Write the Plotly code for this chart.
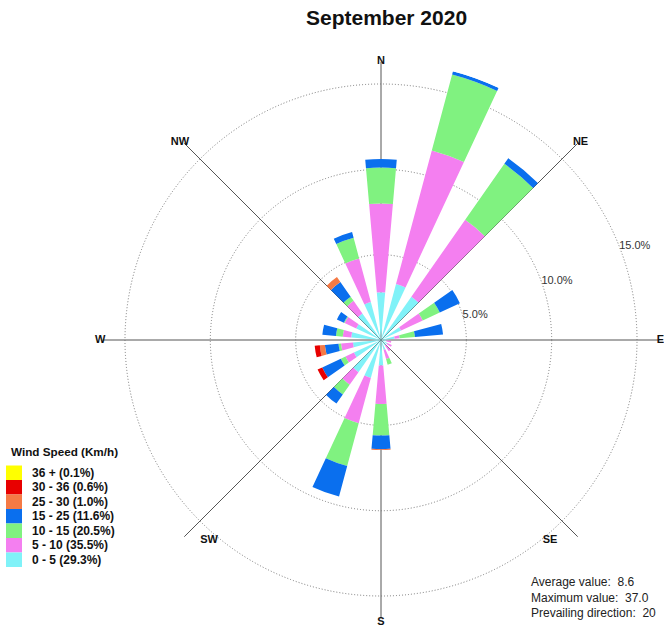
import plotly.graph_objects as go

# ---- data -------------------------------------------------------------
directions = [0, 20, 40, 60, 80, 100, 120, 140, 160,
              180, 200, 220, 240, 260, 280, 300, 320, 340]

speed_labels = ["0 - 5 (29.3%)", "5 - 10 (35.5%)", "10 - 15 (20.5%)",
                "15 - 25 (11.6%)", "25 - 30 (1.0%)", "30 - 36 (0.6%)",
                "36 + (0.1%)"]

speed_colors = ["#80F2F8", "#F47FF0", "#80F280", "#0A6FEE",
                "#F57A45", "#E80000", "#FFFF00"]

# frequency (%) per direction for each speed class
freq_0_5 = [2.8, 3.4, 3.1, 1.3, 0.8, 0.3, 0.4, 0.4, 0.6,
            1.5, 2.3, 2.3, 1.75, 1.65, 1.75, 1.6, 1.9, 2.3]
freq_5_10 = [5.2, 8.1, 5.5, 1.4, 0.3, 0.3, 0.3, 0.4, 0.55,
             2.25, 2.75, 0.9, 0.55, 0.7, 0.5, 0.75, 0.9, 2.65]
freq_10_15 = [2.1, 4.6, 4.0, 1.1, 0.9, 0.0, 0.0, 0.0, 0.35,
              1.85, 2.6, 0.7, 0.3, 0.15, 0.4, 0.05, 0.3, 1.25]
freq_15_25 = [0.5, 0.2, 0.4, 1.3, 1.65, 0.0, 0.0, 0.0, 0.0,
              0.8, 1.85, 0.65, 1.2, 0.8, 0.8, 0.45, 1.05, 0.35]
freq_25_30 = [0.0, 0.0, 0.0, 0.0, 0.0, 0.0, 0.0, 0.0, 0.0,
              0.05, 0.0, 0.0, 0.0, 0.3, 0.0, 0.0, 0.35, 0.0]
freq_30_36 = [0.0, 0.0, 0.0, 0.0, 0.0, 0.0, 0.0, 0.0, 0.0,
              0.0, 0.0, 0.0, 0.3, 0.3, 0.0, 0.0, 0.0, 0.0]
freq_36_up = [0.0] * 18

speed_freqs = [freq_0_5, freq_5_10, freq_10_15, freq_15_25,
               freq_25_30, freq_30_36, freq_36_up]

compass_angles = [0, 45, 90, 135, 180, 225, 270, 315]
compass_labels = ["N", "NE", "E", "SE", "S", "SW", "W", "NW"]

ring_values = [5, 10, 15]
ring_labels = ["5.0%", "10.0%", "15.0%"]

stats_lines = ["Average value:  8.6", "Maximum value:  37.0",
               "Prevailing direction:  20"]

title_text = "September 2020"
legend_title = "Wind Speed (Km/h)"

# ---- figure -----------------------------------------------------------
W, H = 664, 631
FONT = "Liberation Sans, Arial, sans-serif"


def px_x(x):
    return x / W


def px_y(y):
    return 1 - y / H


fig = go.Figure()
for label, color, freq in zip(speed_labels, speed_colors, speed_freqs):
    fig.add_trace(go.Barpolar(
        r=freq, theta=directions, width=[10] * len(directions),
        name=label, marker=dict(color=color, line=dict(width=0)),
        showlegend=False,
    ))

r_max = 16.3
cx, cy, rad = 381, 340, 278.2  # plot centre and outer radius in pixels

# compass point labels around the ends of the direction lines
label_r = [16.0, 15.9, 16.15, 15.34, 16.2, 15.45, 16.15, 15.9]
label_theta = [0, 45, 90, 139.8, 180, 220.7, 270, 315]
label_pos = ["top center", "top right", "middle right", "middle center",
             "bottom center", "middle center", "middle left", "top left"]
fig.add_trace(go.Scatterpolar(
    r=label_r, theta=label_theta, mode="text",
    text=["<b>%s</b>" % t for t in compass_labels],
    textposition=label_pos,
    textfont=dict(size=11, color="#111", family=FONT),
    cliponaxis=False, showlegend=False, hoverinfo="skip",
))

# ring value labels
fig.add_trace(go.Scatterpolar(
    r=ring_values, theta=[73, 70, 68.5], mode="text",
    text=ring_labels, textposition="middle right",
    textfont=dict(size=11, color="#333", family=FONT),
    cliponaxis=False, showlegend=False, hoverinfo="skip",
))

fig.update_layout(
    width=W, height=H,
    margin=dict(l=0, r=0, t=0, b=0),
    paper_bgcolor="white", plot_bgcolor="white",
    font=dict(family=FONT, color="#222"),
    polar=dict(
        bgcolor="white",
        barmode="stack",
        domain=dict(x=[px_x(cx - rad), px_x(cx + rad)],
                    y=[px_y(cy + rad), px_y(cy - rad)]),
        angularaxis=dict(
            direction="clockwise", rotation=90,
            tickmode="array", tickvals=compass_angles,
            showticklabels=False,
            showline=False, ticks="",
            showgrid=True, gridcolor="#555", gridwidth=1,
        ),
        radialaxis=dict(
            range=[0, r_max],
            tickmode="array", tickvals=ring_values,
            showticklabels=False,
            showline=False, ticks="",
            showgrid=True, gridcolor="#777", gridwidth=1,
            griddash="1px,2px",
        ),
    ),
)

# title
fig.add_annotation(
    x=px_x(386), y=px_y(17), xref="paper", yref="paper",
    text="<b>%s</b>" % title_text, showarrow=False,
    font=dict(size=21, color="#111", family=FONT),
    xanchor="center", yanchor="middle",
)

# speed legend
fig.add_annotation(
    x=px_x(9), y=px_y(451), xref="paper", yref="paper",
    text="<b>%s</b>" % legend_title, showarrow=False,
    font=dict(size=11.7, color="#111", family=FONT),
    xanchor="left", yanchor="middle",
)
box_top, box_h = 465.5, 14.5
for i, (label, color) in enumerate(zip(speed_labels[::-1], speed_colors[::-1])):
    y0 = box_top + i * box_h
    fig.add_shape(
        type="rect", xref="paper", yref="paper",
        x0=px_x(6), x1=px_x(22), y0=px_y(y0), y1=px_y(y0 + box_h),
        fillcolor=color, line=dict(width=0),
    )
    fig.add_annotation(
        x=px_x(30), y=px_y(y0 + box_h / 2), xref="paper", yref="paper",
        text="<b>%s</b>" % label, showarrow=False,
        font=dict(size=12, color="#111", family=FONT),
        xanchor="left", yanchor="middle",
    )

# summary statistics
fig.add_annotation(
    x=px_x(529), y=px_y(572.5), xref="paper", yref="paper",
    text="<br>".join(stats_lines), showarrow=False, align="left",
    font=dict(size=12, color="#222", family=FONT),
    xanchor="left", yanchor="top",
)

fig.write_html("out.html")
